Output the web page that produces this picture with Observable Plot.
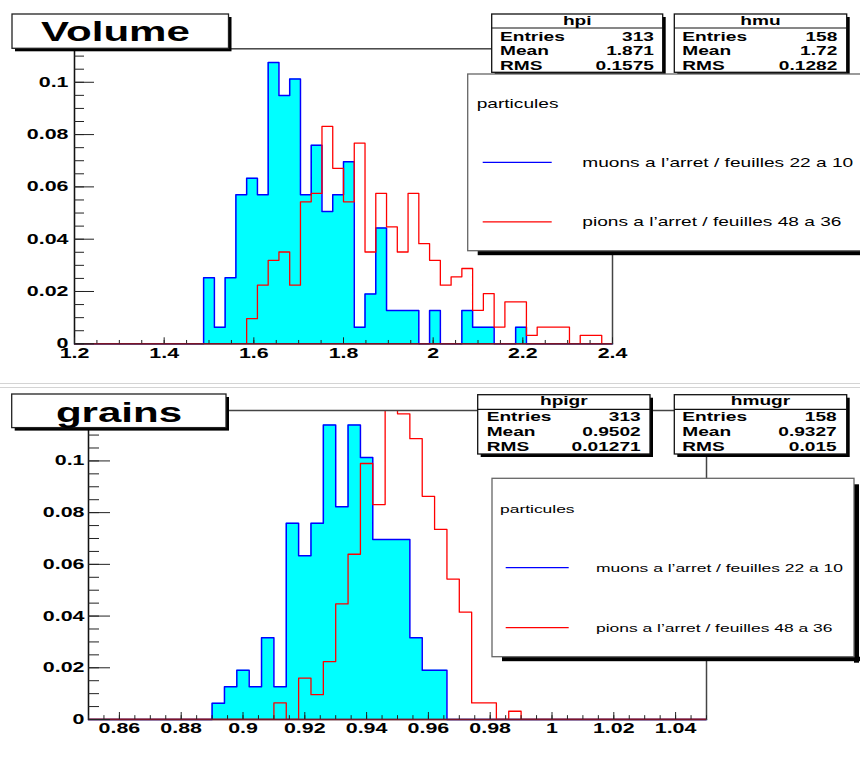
<!DOCTYPE html>
<html><head><meta charset="utf-8">
<script src="https://cdn.jsdelivr.net/npm/d3@7"></script>
<script src="https://cdn.jsdelivr.net/npm/@observablehq/plot@0.6"></script>
<style>
html,body{margin:0;padding:0;background:#fff;}
#wrap{position:relative;width:860px;height:757px;overflow:hidden;background:#fff;}
#wrap>div{position:absolute;left:0;}
#overlay{position:absolute;left:0;top:0;}
</style></head><body>
<div id="wrap"><div id="top" style="top:0px"></div><div id="bot" style="top:380px"></div><svg id="overlay" width="860" height="757"></svg></div>
<script>
// ---------- data ----------
const volumeBins = {lo: 1.2, hi: 2.4, n: 50};
const grainsBins = {lo: 0.85, hi: 1.05, n: 50};

const volMuons = [0,0,0,0,0,0,0,0,0,0,0,0,
  0.0253,0.0063,0.0253,0.0570,0.0633,0.0570,0.1076,0.0949,0.1013,0.0570,
  0.0759,0.0506,0.0570,0.0696,0.0063,0.0190,0.0443,0.0127,0.0127,0.0127,
  0,0.0127,0,0,0.0127,0.0063,0.0063,0,0,0.0063,
  0,0,0,0,0,0,0,0];
const volPions = [0,0,0,0,0,0,0,0,0,0,0,0,0,0,0,0,
  0.0096,0.0224,0.0319,0.0351,0.0224,
  0.0543,0.0575,0.0831,0.0671,0.0543,
  0.0767,0.0351,0.0575,0.0447,0.0351,
  0.0575,0.0383,0.0319,0.0224,0.0256,
  0.0288,0.0128,0.0192,0.0064,0.0160,
  0.0160,0.0032,0.0064,0.0064,0.0064,
  0,0.0032,0.0032,0];
const grMuons = [0,0,0,0,0,0,0,0,0,0,
  0.0063,0.0127,0.0190,0.0127,0.0316,
  0.0127,0.0759,0.0633,0.0759,0.1139,
  0.0823,0.1139,0.1013,0.0696,0.0696,
  0.0696,0.0316,0.0190,0.0190,
  0,0,0,0,0,0,0,0,0,0,0,0,0,0,0,0,0,0,0,0,0];
const grPions = [0,0,0,0,0,0,0,0,0,0,0,0,0,0,0,
  0.0064,0,0.0160,0.0096,0.0224,
  0.0447,0.0639,0.0990,0.0831,0.1565,
  0.1182,0.1086,0.0863,0.0735,0.0543,
  0.0415,0.0064,0.0064,0,0.0032,
  0,0,0,0,0,0,0,0,0,0,0,0,0,0,0];

const volXTicks = [1.2,1.4,1.6,1.8,2,2.2,2.4];
const grXTicks = [0.86,0.88,0.9,0.92,0.94,0.96,0.98,1,1.02,1.04];
const yTicks = [0,0.02,0.04,0.06,0.08,0.1];

const titles = ["Volume", "grains"];
const statsVolume = [
  {name: "hpi", entries: "313", mean: "1.871", rms: "0.1575"},
  {name: "hmu", entries: "158", mean: "1.72", rms: "0.1282"}];
const statsGrains = [
  {name: "hpigr", entries: "313", mean: "0.9502", rms: "0.01271"},
  {name: "hmugr", entries: "158", mean: "0.9327", rms: "0.015"}];
const legendTitle = "particules";
const legendLabels = ["muons a l’arret / feuilles 22 a 10", "pions a l’arret / feuilles 48 a 36"];
const legendColors = ["#0000ff", "#ff0000"];

// ---------- helpers ----------
const FONT = "Liberation Sans, Arial, Helvetica, sans-serif";
const SX = 1.53;

function toSteps(bins, vals) {
  const w = (bins.hi - bins.lo) / bins.n;
  const r = vals.map((v, i) => ({x: bins.lo + i * w, y: v}));
  r.push({x: bins.hi, y: vals[vals.length - 1]});
  return r;
}

function histPlot(o) {
  const mu = toSteps(o.bins, o.muons), pi = toSteps(o.bins, o.pions);
  const nMinor = Math.round((o.bins.hi - o.bins.lo) / o.xMinorStep);
  const xMinor = d3.range(nMinor + 1).map(i => +(o.bins.lo + i * o.xMinorStep).toFixed(5));
  const yMinor = d3.range(0, o.yMax, 0.005).map(v => +v.toFixed(4));
  const svg = Plot.plot({
    width: 860, height: o.height,
    marginLeft: o.ml, marginRight: o.mr, marginTop: o.mt, marginBottom: o.mb,
    x: {domain: [o.bins.lo, o.bins.hi]},
    y: {domain: [0, o.yMax]},
    style: {fontFamily: FONT, background: "transparent", overflow: "visible"},
    marks: [
      Plot.areaY(mu, {x: "x", y: "y", curve: "step-after", fill: "#00ffff"}),
      Plot.line(mu, {x: "x", y: "y", curve: "step-after", stroke: "#0000ff", strokeWidth: 1.5}),
      Plot.line(pi, {x: "x", y: "y", curve: "step-after", stroke: "#ff0000", strokeWidth: 1.3, clip: true}),
      Plot.frame({stroke: "#444", strokeWidth: 1.5}),
      Plot.ruleX([o.bins.lo], {stroke: "#111", strokeWidth: 1.2}),
      Plot.ruleY([0], {stroke: "#7a1428", strokeWidth: 1.5}),
      Plot.axisY({ticks: yMinor, tickSize: -o.yTick / 2, fill: "none", stroke: "#222", label: null}),
      Plot.axisY({ticks: yTicks, tickSize: -o.yTick, fill: "none", stroke: "#222", label: null}),
      Plot.axisY({ticks: yTicks, tickSize: 0, tickPadding: o.yPad, tickFormat: d3.format("~g"),
        fontSize: 14, fontWeight: "bold", fill: "#000", label: null}),
      Plot.axisX({ticks: xMinor, tickSize: -o.xTick * 0.55, fill: "none", stroke: "#222", label: null}),
      Plot.axisX({ticks: o.xTicks, tickSize: -o.xTick, fill: "none", stroke: "#222", label: null}),
      Plot.axisX({ticks: o.xTicks, tickSize: 0, tickPadding: o.xPad, tickFormat: d3.format("~g"),
        fontSize: 14, fontWeight: "bold", fill: "#000", label: null})
    ]
  });
  // stretch glyphs horizontally like the original output
  svg.querySelectorAll("text").forEach(t => {
    const tr = t.getAttribute("transform");
    if (tr) t.setAttribute("transform", tr + ` scale(${SX},1)`);
    else {
      const x = +(t.getAttribute("x") || 0), y = +(t.getAttribute("y") || 0);
      t.removeAttribute("x"); t.removeAttribute("y");
      t.setAttribute("transform", `translate(${x},${y}) scale(${SX},1)`);
    }
  });
  return svg;
}

document.getElementById("top").appendChild(histPlot({
  bins: volumeBins, muons: volMuons, pions: volPions, xTicks: volXTicks, xMinorStep: 0.05,
  yMax: 0.1128, height: 380, ml: 74, mr: 248, mt: 48.3, mb: 36.7,
  yTick: 20, xTick: 6, yPad: 6, xPad: 4
}));
document.getElementById("bot").appendChild(histPlot({
  bins: grainsBins, muons: grMuons, pions: grPions, xTicks: grXTicks, xMinorStep: 0.005,
  yMax: 0.1195, height: 377, ml: 88, mr: 154, mt: 30, mb: 38,
  yTick: 22, xTick: 7, yPad: 4, xPad: 4
}));

// ---------- overlay: pad border, titles, stats boxes, legends ----------
const ov = d3.select("#overlay");
function rect(x, y, w, h, fill, stroke, sw) {
  const r = ov.append("rect").attr("x", x).attr("y", y).attr("width", w).attr("height", h).attr("fill", fill);
  if (stroke) r.attr("stroke", stroke).attr("stroke-width", sw || 1);
  return r;
}
function line(x1, y1, x2, y2, stroke, sw) {
  ov.append("line").attr("x1", x1).attr("y1", y1).attr("x2", x2).attr("y2", y2)
    .attr("stroke", stroke).attr("stroke-width", sw || 1);
}
function txt(x, y, s, {size = 12.5, weight = "bold", anchor = "start"} = {}) {
  ov.append("text").attr("transform", `translate(${x},${y}) scale(${SX},1)`)
    .attr("text-anchor", anchor).attr("font-size", size).attr("font-weight", weight)
    .attr("font-family", FONT).attr("fill", "#000").text(s);
}

// pad separator
line(0, 383.5, 860, 383.5, "#d4d4d4", 1.2);
line(0, 387.5, 860, 387.5, "#d4d4d4", 1.2);

function titleBox(x, y, w, h, s, cx, by) {
  rect(x + 3, y + 3, w, h, "#000");
  rect(x, y, w, h, "#fff", "#222", 1.3);
  txt(cx, by, s, {size: 27.5, anchor: "middle"});
}
titleBox(12, 14, 216.5, 34.3, titles[0], 115.5, 40.7);
titleBox(11.7, 394, 214.3, 33.6, titles[1], 119, 421.5);

function statBox(st, x, y, w, h, hdrLine, hdrBase, rows, padL, padR) {
  rect(x + 3, y + 3, w, h, "#000");
  rect(x, y, w, h, "#fff", "#111", 1.3);
  line(x, hdrLine, x + w, hdrLine, "#111", 1.2);
  txt(x + w / 2, hdrBase, st.name, {anchor: "middle"});
  const labels = ["Entries", "Mean", "RMS"], vals = [st.entries, st.mean, st.rms];
  rows.forEach((b, i) => {
    txt(x + padL, b, labels[i]);
    txt(x + w - padR, b, vals[i], {anchor: "end"});
  });
}
statBox(statsVolume[0], 491.7, 14, 171, 58.3, 28, 24.8, [40.5, 55, 69.5], 8.3, 8.7);
statBox(statsVolume[1], 674.3, 14, 172.4, 58.3, 28, 24.8, [40.5, 55, 69.5], 8, 9.4);
statBox(statsGrains[0], 477.7, 394.7, 172.3, 59.3, 409.3, 404.5, [420.7, 436, 450.7], 9, 9.3);
statBox(statsGrains[1], 674.3, 394.7, 172.4, 59.3, 409.3, 404.5, [420.7, 436, 450.7], 8, 10);

function legendBox(x, y, w, h, titleX, titleY, lineX1, lineX2, textX, rowsY, size) {
  rect(x + 10, y + h, w + 5, 4.5, "#000");
  rect(x + w, y + 6, 5, h, "#000");
  rect(x, y, w, h, "#fff", "#666", 1.3);
  txt(titleX, titleY, legendTitle, {weight: "normal", size});
  rowsY.forEach((ry, i) => {
    line(lineX1, ry, lineX2, ry, legendColors[i], 1.2);
    txt(textX, ry + 4.3, legendLabels[i], {weight: "normal", size});
  });
}
legendBox(467.7, 74, 430, 176.7, 476.7, 107.8, 482.7, 551.7, 582.3, [162.3, 221.8], 12.5);
legendBox(492, 478.3, 362, 178.4, 500, 512.5, 505.7, 568.7, 596, [567.7, 627.7], 11.4);
</script>
</body></html>
